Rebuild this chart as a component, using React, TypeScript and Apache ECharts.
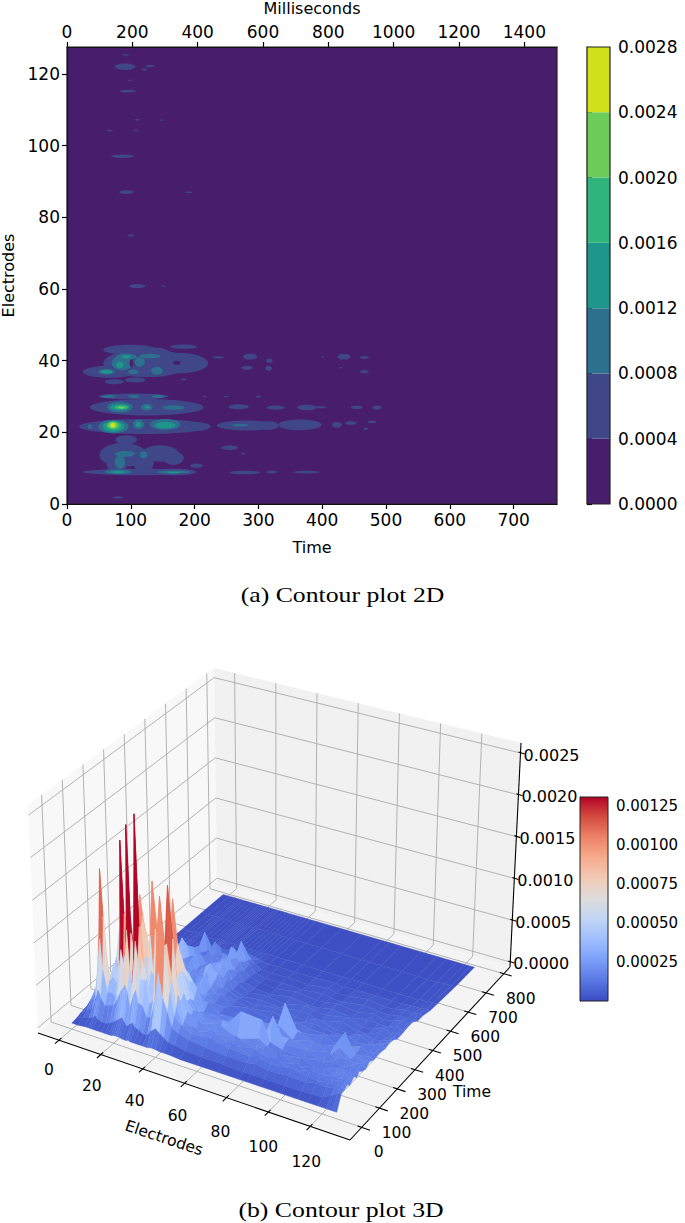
import React, { useEffect, useRef } from "react";
import * as echarts from "echarts";

const FONT = "DejaVu Sans";
const bottomTicks = [0, 100, 200, 300, 400, 500, 600, 700];
const topTicks = [0, 200, 400, 600, 800, 1000, 1200, 1400];
const leftTicks = [0, 20, 40, 60, 80, 100, 120];
const levelTicks = [0, 0.0004, 0.0008, 0.0012, 0.0016, 0.002, 0.0024, 0.0028];
const levelColors = ["#481e6c", "#3f4788", "#2d708e", "#1f968b", "#2fb47c", "#6ccd5a", "#d0e11c"];
const cbar3Ticks = [0.00025, 0.0005, 0.00075, 0.001, 0.00125];

// [time, electrode, time radius, electrode radius]
const level1 = [
  [114, 8.9, 89, 0.9], [167, 8.9, 36, 0.9], [88, 13.7, 37, 3.3], [78, 11.4, 16, 2.8], [146, 14.1, 29, 2.3], [120, 11.4, 16, 2.3],
  [167, 12.8, 16, 1.9], [203, 10.7, 10, 0.6], [255, 15.7, 13, 0.6], [93, 17.9, 17, 1.3], [276, 14, 3, 0.2], [279, 8.8, 24, 0.5],
  [321, 8.9, 9, 0.4], [376, 8.9, 21, 0.4], [80, 1.8, 8, 0.3],
  [122, 21.6, 103, 2.1], [198, 21.6, 27, 1.3], [282, 21.9, 47, 1.4], [316, 21.9, 16, 1.2], [365, 22.1, 34, 1.5], [423, 22.1, 8, 0.8],
  [445, 22.6, 9, 0.5], [478, 22.9, 7, 0.3], [468, 21, 4, 0.3],
  [125, 27, 89, 2.3], [182, 26.7, 31, 1.1], [269, 27.1, 16, 0.7], [327, 26.9, 14, 0.6], [376, 26.9, 15, 0.8], [397, 27, 10, 0.3],
  [454, 27, 9, 0.5], [486, 26.9, 7, 0.6], [104, 30, 55, 0.8], [216, 30, 3, 0.2], [250, 30, 4, 0.2], [300, 30, 4, 0.3],
  [125, 39.3, 68, 3.9], [67, 36.9, 42, 1.7], [177, 39.3, 44, 2.8], [99, 43, 42, 1.4], [141, 42.5, 18, 1.1], [74, 34.1, 15, 0.7],
  [107, 34.6, 16, 0.7], [183, 43.9, 21, 0.6], [183, 34.8, 4, 0.3], [237, 40.9, 9, 0.3], [287, 41.1, 11, 0.8], [317, 40, 5, 0.6],
  [282, 38, 9, 0.6], [316, 37.9, 5, 0.7], [434, 41.1, 10, 0.8], [466, 40.9, 7, 0.4], [466, 36.9, 7, 0.4], [429, 38, 2, 0.2], [401, 41, 2, 0.2],
  [91, 122, 16, 0.9], [130, 122.2, 7, 0.3], [121, 121.2, 4, 0.3], [92, 125.3, 6, 0.2], [99, 118.2, 4, 0.15], [95, 115.2, 13, 0.4],
  [110, 107.2, 4, 0.2], [148, 107.1, 3, 0.15], [67, 104.2, 5, 0.2], [108, 104.2, 4, 0.2], [87, 97, 18, 0.5], [93, 87, 11, 0.5],
  [191, 87, 6, 0.2], [100, 74.9, 6, 0.3], [110, 60.8, 13, 0.6], [151, 60.8, 3, 0.2],
];
const level2 = [
  [80, 9, 21, 0.65], [167, 8.9, 26, 0.45], [83, 11.8, 8, 1.9], [91, 14, 16, 0.8], [120, 13.7, 6, 1], [36, 21.6, 3, 0.7],
  [73, 21.6, 24, 1.9], [112, 22.2, 9, 1.3], [154, 22.2, 24, 1.5], [271, 22, 13, 0.3], [83, 27, 20, 1.5], [125, 27, 9, 0.9],
  [167, 26.9, 17, 0.65], [65, 30, 11, 0.4], [105, 30, 9, 0.4], [143, 30, 10, 0.4], [86, 39.3, 16, 2], [62, 36.9, 13, 0.75],
  [93, 41.1, 16, 0.9], [130, 41.3, 16, 0.65], [141, 37.2, 9, 1.1], [104, 36.9, 8, 0.65], [114, 39.7, 8, 1.4],
];
const holes = [[172, 39.4, 6, 0.6], [101, 39.3, 3, 1]];
const level3 = [
  [80, 8.9, 11, 0.3], [167, 8.8, 10, 0.2], [73, 21.6, 17, 1.5], [112, 22.2, 4, 0.75], [154, 22, 16, 0.9], [83, 27, 15, 0.85],
  [126, 27, 4, 0.4], [62, 36.9, 9, 0.5], [93, 41.1, 7, 0.5], [83, 38.8, 6, 0.9],
];
const level4 = [[73, 21.9, 11.5, 1.2], [85, 27, 10.5, 0.55]];
const level5 = [[72, 22, 7.5, 0.95], [85, 26.9, 5, 0.3]];
const level6 = [[72, 22, 3.7, 0.65]];

// 3D surface, values in units of 1e-5
const surfaceTimes = [0, 25, 45, 60, 70, 80, 95, 110, 125, 140, 160, 180, 205, 235, 270, 290, 310, 335, 360, 390, 420, 450, 480, 520, 560, 660, 767];
const surfaceElectrodes = [0, 3, 6, 8, 9, 10, 12, 14, 16, 18, 19, 20, 21, 22, 23, 24, 26, 27, 28, 30, 32, 34, 36, 38, 40, 42, 44, 47, 52, 60, 70, 80, 84, 90, 100, 108, 113, 118, 122, 125, 127];
const surfaceValues = [
  [1, 2, 4, 5, 4, 6, 5, 6, 4, 5, 3, 4, 3, 3, 2, 3, 2, 2, 2, 2, 2, 1, 2, 1, 1, 1, 1],
  [1, 5, 9, 14, 18, 12, 16, 10, 16, 9, 12, 8, 8, 10, 6, 8, 5, 6, 4, 4, 3, 3, 2, 2, 1, 1, 1],
  [2, 7, 16, 26, 36, 26, 20, 28, 16, 24, 14, 20, 14, 18, 10, 14, 9, 10, 8, 6, 6, 4, 4, 2, 2, 1, 1],
  [2, 9, 30, 70, 115, 70, 40, 32, 26, 38, 48, 36, 18, 16, 18, 12, 14, 14, 9, 8, 7, 5, 4, 3, 2, 1, 1],
  [2, 12, 38, 95, 175, 105, 55, 36, 46, 58, 90, 56, 22, 18, 36, 18, 16, 26, 12, 12, 9, 7, 5, 3, 2, 1, 1],
  [2, 9, 30, 60, 120, 70, 42, 32, 28, 44, 52, 36, 18, 14, 18, 12, 12, 14, 9, 8, 6, 5, 3, 2, 2, 1, 1],
  [2, 7, 22, 34, 46, 42, 62, 30, 40, 32, 44, 30, 24, 14, 12, 16, 16, 10, 9, 7, 6, 4, 3, 2, 1, 1, 1],
  [2, 7, 24, 36, 52, 66, 54, 38, 52, 46, 54, 40, 24, 18, 14, 20, 14, 12, 8, 9, 6, 4, 3, 2, 1, 1, 1],
  [2, 9, 26, 32, 44, 50, 36, 42, 32, 38, 34, 26, 20, 16, 18, 14, 16, 10, 12, 8, 8, 5, 3, 2, 1, 1, 1],
  [2, 12, 34, 70, 125, 75, 40, 44, 32, 46, 38, 32, 26, 20, 16, 22, 14, 16, 12, 12, 8, 6, 4, 2, 2, 1, 1],
  [2, 14, 40, 90, 215, 100, 48, 36, 40, 54, 44, 34, 26, 30, 24, 18, 26, 16, 18, 12, 12, 8, 4, 2, 2, 1, 1],
  [3, 16, 46, 75, 130, 95, 56, 42, 60, 95, 62, 42, 34, 30, 40, 24, 30, 26, 22, 18, 16, 12, 6, 3, 2, 1, 1],
  [3, 18, 50, 85, 125, 115, 66, 60, 95, 140, 95, 56, 40, 36, 46, 32, 42, 34, 36, 22, 24, 16, 10, 4, 2, 1, 1],
  [3, 20, 54, 115, 235, 130, 76, 62, 88, 115, 90, 60, 50, 44, 52, 38, 44, 52, 38, 30, 24, 36, 14, 5, 2, 1, 1],
  [3, 16, 46, 70, 110, 95, 62, 48, 62, 70, 62, 46, 34, 30, 34, 28, 34, 28, 26, 20, 18, 14, 8, 3, 2, 1, 1],
  [2, 12, 30, 55, 80, 60, 44, 36, 38, 46, 38, 30, 24, 18, 22, 16, 20, 14, 14, 12, 10, 8, 4, 2, 2, 1, 1],
  [2, 16, 46, 105, 250, 110, 52, 50, 56, 110, 56, 40, 30, 26, 26, 20, 22, 16, 18, 14, 14, 10, 5, 3, 2, 1, 1],
  [3, 18, 52, 85, 120, 120, 72, 56, 100, 160, 100, 52, 34, 32, 42, 26, 30, 32, 34, 22, 22, 28, 14, 4, 2, 1, 1],
  [2, 14, 38, 62, 84, 72, 52, 40, 56, 105, 50, 36, 26, 22, 24, 18, 20, 16, 18, 14, 14, 12, 6, 3, 2, 1, 1],
  [2, 12, 36, 62, 62, 50, 66, 52, 46, 60, 40, 28, 22, 18, 18, 24, 26, 18, 20, 14, 22, 12, 8, 3, 2, 1, 1],
  [2, 9, 24, 36, 32, 30, 28, 26, 30, 32, 24, 18, 16, 20, 14, 22, 16, 24, 14, 20, 14, 18, 8, 3, 2, 1, 1],
  [2, 10, 26, 42, 44, 38, 34, 42, 32, 36, 26, 32, 20, 24, 20, 16, 26, 18, 28, 16, 26, 14, 10, 3, 2, 1, 1],
  [2, 16, 44, 110, 60, 52, 56, 60, 90, 52, 48, 42, 28, 20, 30, 24, 20, 30, 18, 26, 20, 28, 14, 4, 2, 1, 1],
  [3, 20, 80, 165, 100, 100, 76, 100, 150, 95, 60, 50, 34, 24, 30, 40, 24, 34, 30, 22, 36, 20, 16, 4, 2, 1, 1],
  [3, 16, 52, 110, 110, 175, 115, 78, 100, 84, 64, 54, 36, 30, 38, 44, 32, 26, 36, 28, 26, 38, 18, 5, 2, 1, 1],
  [2, 12, 38, 58, 72, 115, 66, 70, 70, 62, 50, 46, 30, 20, 22, 26, 30, 20, 24, 18, 22, 16, 12, 4, 2, 1, 1],
  [2, 9, 22, 32, 40, 52, 42, 48, 36, 36, 30, 40, 20, 24, 16, 20, 14, 20, 14, 18, 12, 14, 8, 3, 2, 1, 1],
  [2, 8, 18, 24, 22, 26, 32, 24, 28, 22, 18, 16, 22, 14, 18, 12, 14, 10, 12, 8, 8, 6, 4, 2, 2, 1, 1],
  [1, 6, 14, 18, 24, 16, 26, 20, 28, 18, 22, 16, 12, 14, 8, 10, 9, 5, 5, 4, 4, 3, 3, 2, 2, 1, 1],
  [1, 5, 12, 20, 14, 24, 18, 26, 16, 24, 16, 20, 13, 9, 12, 7, 7, 8, 8, 3, 3, 4, 4, 2, 2, 1, 1],
  [1, 5, 10, 16, 20, 14, 22, 16, 44, 20, 24, 16, 20, 10, 8, 10, 11, 6, 5, 7, 7, 3, 3, 2, 2, 1, 1],
  [1, 4, 10, 14, 12, 20, 16, 24, 42, 22, 18, 28, 16, 14, 9, 8, 8, 10, 11, 4, 4, 6, 6, 3, 2, 1, 1],
  [1, 4, 12, 16, 13, 16, 22, 18, 20, 46, 20, 26, 48, 16, 13, 9, 7, 8, 8, 5, 5, 4, 3, 2, 2, 1, 1],
  [1, 4, 9, 13, 18, 12, 20, 14, 16, 20, 22, 16, 20, 12, 10, 12, 13, 6, 7, 8, 8, 3, 4, 3, 2, 1, 1],
  [1, 4, 11, 16, 13, 17, 12, 18, 14, 20, 16, 22, 13, 17, 10, 9, 8, 12, 12, 5, 5, 7, 7, 3, 2, 1, 1],
  [1, 4, 10, 13, 17, 13, 16, 12, 18, 14, 20, 13, 18, 12, 16, 11, 9, 7, 6, 9, 9, 5, 4, 3, 2, 1, 1],
  [1, 5, 13, 12, 16, 14, 20, 16, 13, 17, 16, 24, 36, 14, 12, 15, 13, 8, 8, 7, 6, 5, 5, 3, 2, 1, 1],
  [1, 5, 12, 16, 13, 18, 14, 21, 17, 14, 20, 16, 14, 18, 13, 11, 10, 13, 13, 8, 8, 8, 8, 4, 3, 1, 1],
  [1, 10, 15, 13, 18, 16, 22, 18, 14, 20, 17, 20, 17, 14, 16, 13, 12, 9, 9, 12, 12, 7, 7, 4, 3, 2, 1],
  [1, 14, 18, 15, 20, 17, 16, 21, 18, 16, 20, 17, 18, 16, 17, 15, 14, 13, 13, 9, 9, 9, 9, 5, 4, 2, 1],
  [1, 16, 17, 19, 15, 17, 20, 16, 20, 17, 15, 19, 16, 17, 15, 17, 16, 12, 12, 13, 13, 8, 8, 5, 4, 2, 1],
];
const axisElectrodes = [0, 20, 40, 60, 80, 100, 120];
const axisTimes = [0, 100, 200, 300, 400, 500, 600, 700, 800];
const axisZ = [0, 0.0005, 0.001, 0.0015, 0.002, 0.0025];

// projection of the 3D box onto the page
const E0 = -10, E1 = 139, T0 = -66, T1 = 835, Z0 = -0.00006, Z1 = 0.00262;
const floorC = [[38, 1033], [350, 1140], [510, 967], [217, 883]];
const topC = [[28, 805], [352, 885], [521, 743], [214, 668]];
const bil = (c: number[][], u: number, v: number) =>
  [0, 1].map((k) => c[0][k] * (1 - u) * (1 - v) + c[1][k] * u * (1 - v) + c[2][k] * u * v + c[3][k] * (1 - u) * v);
const project = (e: number, t: number, z: number) => {
  const u = (e - E0) / (E1 - E0), v = (t - T0) / (T1 - T0), w = (z - Z0) / (Z1 - Z0);
  const a = bil(floorC, u, v), b = bil(topC, u, v);
  return [a[0] + (b[0] - a[0]) * w, a[1] + (b[1] - a[1]) * w];
};

const coolwarm = ["#3b4cc0", "#5977e3", "#7b9ff9", "#9ebeff", "#c0d4f5", "#dddcdc", "#f2cbb7", "#f7ac8e", "#ee8468", "#d44e41", "#b40426"];
const hex = (s: string) => [1, 3, 5].map((i) => parseInt(s.slice(i, i + 2), 16));
const cw = (x: number) => {
  const p = Math.max(0, Math.min(0.9999, x)) * 10, i = Math.floor(p), f = p - i;
  const a = hex(coolwarm[i]), b = hex(coolwarm[i + 1]);
  return `rgb(${a.map((v, k) => Math.round(v + (b[k] - v) * f)).join(",")})`;
};

const ellipseSeries = (blobs: number[][], color: string, z: number) => ({
  type: "custom", xAxisIndex: 0, yAxisIndex: 0, z, silent: true, clip: true,
  data: blobs,
  encode: { x: 0, y: 1 },
  renderItem: (_: any, api: any) => {
    const c = api.coord([api.value(0), api.value(1)]);
    const s = api.size([api.value(2), api.value(3)]);
    return { type: "ellipse", shape: { cx: c[0], cy: c[1], rx: s[0], ry: s[1] }, style: { fill: color } };
  },
});

const line = (a: number[], b: number[], stroke: string, lineWidth: number) => ({
  type: "line", shape: { x1: a[0], y1: a[1], x2: b[0], y2: b[1] }, style: { stroke, lineWidth },
});
const poly = (pts: number[][], fill: string) => ({ type: "polygon", shape: { points: pts }, style: { fill } });
const label = (text: string, x: number, y: number, align = "center", size = 15.5, rotation = 0) => ({
  type: "text", x, y, rotation,
  style: { text, fill: "#000", fontFamily: FONT, fontSize: size, align, verticalAlign: "middle" },
});

function buildOption() {
  const GRID = "#b2b2b2";
  const faces: number[][] = [];
  for (let r = 0; r < surfaceElectrodes.length - 1; r++)
    for (let c = surfaceTimes.length - 2; c >= 0; c--) faces.push([r, c]);

  const boxChildren: any[] = [
    poly([project(E0, T0, Z0), project(E0, T1, Z0), project(E0, T1, Z1), project(E0, T0, Z1)], "#f8f8f8"),
    poly([project(E0, T1, Z0), project(E1, T1, Z0), project(E1, T1, Z1), project(E0, T1, Z1)], "#f1f1f1"),
    poly([project(E0, T0, Z0), project(E1, T0, Z0), project(E1, T1, Z0), project(E0, T1, Z0)], "#f4f4f4"),
  ];
  axisZ.forEach((z) => {
    boxChildren.push(line(project(E0, T0, z), project(E0, T1, z), GRID, 1));
    boxChildren.push(line(project(E0, T1, z), project(E1, T1, z), GRID, 1));
  });
  axisElectrodes.forEach((e) => {
    boxChildren.push(line(project(e, T1, Z1), project(e, T1, Z0), GRID, 1));
    boxChildren.push(line(project(e, T1, Z0), project(e, T0, Z0), GRID, 1));
  });
  axisTimes.forEach((t) => {
    boxChildren.push(line(project(E0, t, Z1), project(E0, t, Z0), GRID, 1));
    boxChildren.push(line(project(E0, t, Z0), project(E1, t, Z0), GRID, 1));
  });

  const axisChildren: any[] = [
    line(project(E0, T0, Z0), project(E1, T0, Z0), "#000", 1.1),
    line(project(E1, T0, Z0), project(E1, T1, Z0), "#000", 1.1),
    line(project(E1, T1, Z0), project(E1, T1, Z1), "#000", 1.1),
  ];
  axisElectrodes.forEach((e) => {
    const p = project(e, T0, Z0);
    axisChildren.push(line(project(e, T0 + 12, Z0), project(e, T0 - 20, Z0), "#000", 1.1));
    axisChildren.push(label(String(e), p[0] - 10 + e * 0.05, p[1] + 30 + e * 0.05));
  });
  axisTimes.forEach((t) => {
    const p = project(E1, t, Z0);
    axisChildren.push(line(project(E1 - 2, t, Z0), project(E1 + 4, t, Z0), "#000", 1.1));
    axisChildren.push(label(String(t), p[0] + 17, p[1] + 25));
  });
  axisZ.forEach((z) => {
    const p = project(E1, T1, z);
    axisChildren.push(line([p[0] - 2, p[1] - 1], [p[0] + 4, p[1] + 1], "#000", 1.1));
    axisChildren.push(label(z.toFixed(4), p[0] + 3, p[1] + 2, "left", 16));
  });
  axisChildren.push(label("Electrodes", 164, 1138, "center", 15.5, -0.32));
  axisChildren.push(label("Time", 472, 1092));

  const singleGroup = (children: any[], z: number) => ({
    type: "custom", coordinateSystem: "none", z, silent: true, data: [0],
    renderItem: () => ({ type: "group", children }),
  });

  const stops = coolwarm.map((_, i) => ({ offset: i / 10, color: coolwarm[10 - i] }));
  const tickStyle = { length: 5, lineStyle: { color: "#000", width: 1.2 } };
  const labelStyle = { color: "#000", fontFamily: FONT, fontSize: 17, margin: 7 };
  const nameStyle = { color: "#000", fontFamily: FONT, fontSize: 16 };
  const frame = (x: number, y: number, stroke: string, xAxisIndex: number, yAxisIndex: number, lineWidth: number) => ({
    type: "custom", xAxisIndex, yAxisIndex, z: 9, silent: true, data: [[x, y]],
    renderItem: (_: any, api: any) => {
      const a = api.coord([0, 0]), b = api.coord([api.value(0), api.value(1)]);
      return { type: "rect", shape: { x: a[0], y: b[1], width: b[0] - a[0], height: a[1] - b[1] }, style: { fill: "none", stroke, lineWidth } };
    },
  });

  return {
    animation: false,
    backgroundColor: "#fff",
    grid: [
      { left: 67, top: 47, width: 490, height: 457, show: true, backgroundColor: levelColors[0], borderWidth: 0, outerBoundsMode: "none" },
      { left: 587, top: 47, width: 23, height: 457, show: false, outerBoundsMode: "none" },
      { left: 580, top: 797, width: 28, height: 204, show: false, outerBoundsMode: "none" },
    ],
    xAxis: [
      {
        type: "value", gridIndex: 0, min: 0, max: 768, position: "bottom",
        name: "Time", nameLocation: "middle", nameGap: 35, nameTextStyle: nameStyle,
        axisLine: { onZero: false, lineStyle: { color: "#000", width: 1.2 } }, splitLine: { show: false },
        axisTick: { ...tickStyle, customValues: bottomTicks }, axisLabel: { ...labelStyle, customValues: bottomTicks, formatter: (v: number) => String(v) },
      },
      {
        type: "value", gridIndex: 0, min: 0, max: 1500, position: "top",
        name: "Milliseconds", nameLocation: "middle", nameGap: 31, nameTextStyle: nameStyle,
        axisLine: { onZero: false, lineStyle: { color: "#000", width: 1.2 } }, splitLine: { show: false },
        axisTick: { ...tickStyle, customValues: topTicks }, axisLabel: { ...labelStyle, customValues: topTicks, formatter: (v: number) => String(v) },
      },
      { type: "value", gridIndex: 1, min: 0, max: 1, show: false },
      { type: "value", gridIndex: 2, min: 0, max: 1, show: false },
    ],
    yAxis: [
      {
        type: "value", gridIndex: 0, min: 0, max: 127.5, position: "left",
        name: "Electrodes", nameLocation: "middle", nameGap: 50, nameRotate: 90, nameTextStyle: nameStyle,
        axisLine: { onZero: false, lineStyle: { color: "#000", width: 1.2 } }, splitLine: { show: false },
        axisTick: { ...tickStyle, customValues: leftTicks }, axisLabel: { ...labelStyle, customValues: leftTicks, formatter: (v: number) => String(v) },
      },
      {
        type: "value", gridIndex: 1, min: 0, max: 0.0028, interval: 0.0004, position: "right",
        axisLine: { show: true, lineStyle: { color: "#000", width: 1.2 } }, splitLine: { show: false },
        axisTick: tickStyle,
        axisLabel: { ...labelStyle, margin: 8, formatter: (v: number) => v.toFixed(4) },
      },
      {
        type: "value", gridIndex: 2, min: 0, max: 0.00131, position: "right",
        axisLine: { show: true, lineStyle: { color: "#222", width: 1 } }, splitLine: { show: false },
        axisTick: { ...tickStyle, customValues: cbar3Ticks },
        axisLabel: { ...labelStyle, fontSize: 15, margin: 8, customValues: cbar3Ticks, formatter: (v: number) => v.toFixed(5) },
      },
    ],
    graphic: [
      { type: "text", x: 342.5, y: 595, scaleX: 1.17, style: { text: "(a) Contour plot 2D", fill: "#000", fontFamily: "Liberation Serif", fontSize: 22, align: "center", verticalAlign: "middle" } },
      { type: "text", x: 341, y: 1210, scaleX: 1.17, style: { text: "(b) Contour plot 3D", fill: "#000", fontFamily: "Liberation Serif", fontSize: 22, align: "center", verticalAlign: "middle" } },
    ],
    series: [
      ellipseSeries(level1, levelColors[1], 3),
      ellipseSeries(level2, levelColors[2], 4),
      ellipseSeries(holes, levelColors[0], 4.5),
      ellipseSeries(level3, levelColors[3], 5),
      ellipseSeries(level4, levelColors[4], 6),
      ellipseSeries(level5, levelColors[5], 7),
      ellipseSeries(level6, levelColors[6], 8),
      frame(768, 127.5, "#222", 0, 0, 1.2),
      {
        type: "custom", xAxisIndex: 2, yAxisIndex: 1, z: 3, silent: true,
        data: levelColors.map((_, i) => [levelTicks[i], levelTicks[i + 1]]),
        renderItem: (p: any, api: any) => {
          const a = api.coord([0, api.value(0)]), b = api.coord([1, api.value(1)]);
          return { type: "rect", shape: { x: a[0], y: b[1], width: b[0] - a[0], height: a[1] - b[1] }, style: { fill: levelColors[p.dataIndex] } };
        },
      },
      frame(1, 0.0028, "#222", 2, 1, 1.2),
      {
        type: "custom", xAxisIndex: 3, yAxisIndex: 2, z: 3, silent: true, data: [[0, 0.00131]],
        renderItem: (_: any, api: any) => {
          const a = api.coord([0, api.value(0)]), b = api.coord([1, api.value(1)]);
          return {
            type: "rect", shape: { x: a[0], y: b[1], width: b[0] - a[0], height: a[1] - b[1] },
            style: { fill: new echarts.graphic.LinearGradient(0, 0, 0, 1, stops), stroke: "#222", lineWidth: 1 },
          };
        },
      },
      singleGroup(boxChildren, 1),
      {
        type: "custom", coordinateSystem: "none", z: 2, silent: true, progressive: 0, data: faces,
        renderItem: (p: any) => {
          const [r, c] = faces[p.dataIndex];
          const e0 = surfaceElectrodes[r], e1 = surfaceElectrodes[r + 1], t0 = surfaceTimes[c], t1 = surfaceTimes[c + 1];
          const v = [surfaceValues[r][c], surfaceValues[r + 1][c], surfaceValues[r + 1][c + 1], surfaceValues[r][c + 1]];
          const mean = (v[0] + v[1] + v[2] + v[3]) / 4, max = Math.max(...v);
          const color = cw((0.6 * mean + 0.25 * max) / 131);
          return {
            type: "polygon",
            shape: { points: [project(e0, t0, v[0] * 1e-5), project(e1, t0, v[1] * 1e-5), project(e1, t1, v[2] * 1e-5), project(e0, t1, v[3] * 1e-5)] },
            style: { fill: color, stroke: color, lineWidth: 0.4 },
          };
        },
      },
      singleGroup(axisChildren, 3),
    ],
  };
}

export default function App() {
  const ref = useRef<HTMLDivElement>(null);
  useEffect(() => {
    const chart = echarts.init(ref.current!, undefined, { renderer: "svg" });
    chart.setOption(buildOption() as any);
    return () => chart.dispose();
  }, []);
  return <div ref={ref} style={{ position: "absolute", left: 0, top: 0, width: 685, height: 1223 }} />;
}
